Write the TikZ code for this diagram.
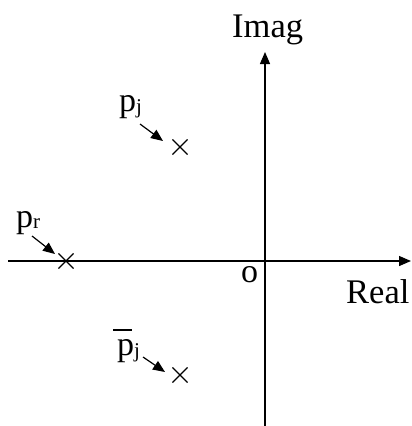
\documentclass[tikz,border=0pt]{standalone}
\usepackage{fontspec}
\setmainfont{Liberation Serif}
\usetikzlibrary{arrows.meta,shapes.misc}
\newcommand\subj{\raisebox{-2pt}{\fontsize{21}{22}\selectfont j}}
\newcommand\subr{\raisebox{-1pt}{\fontsize{21}{22}\selectfont r}}
\newcommand\pbar{\makebox[0pt][l]{\hspace{-0.12em}\raisebox{0.70em}{\rule{0.56em}{0.06em}}}p}
\tikzset{
  axis/.style={line width=1.3pt,-{Triangle[length=12pt,width=10pt]}},
  pointer/.style={line width=1.2pt,-{Triangle[length=12pt,width=10pt]}},
  pole/.style={cross out,draw,line width=1.1pt,minimum size=14pt,inner sep=0pt},
  lbl/.style={inner sep=0pt,anchor=base west,font=\fontsize{34}{38}\selectfont},
  axlbl/.style={inner sep=0pt,anchor=base west,font=\fontsize{34.5}{40}\selectfont}
}
\begin{document}
\begin{tikzpicture}[x=1pt,y=-1pt]
\useasboundingbox (0,0) rectangle (412,426);
% axes
\coordinate (xl) at (8,261);
\coordinate (xr) at (411,261);
\coordinate (yb) at (265,426);
\coordinate (yt) at (265,52);
\draw[axis] (xl) -- (xr);
\draw[axis] (yb) -- (yt);
% labels
\node[axlbl] (imag) at (232,37) {Imag};
\node[axlbl] (real) at (346,303) {Real};
\node[lbl] (o) at (241,282) {o};
% poles
\node[pole] (xj) at (180,147) {};
\node[pole] (xr0) at (66,261) {};
\node[pole] (xjb) at (180,375) {};
% pole labels
\node[lbl] (pj) at (119,111) {p\subj};
\node[lbl] (pr) at (16,227) {p\subr};
\node[lbl] (pjb) at (117,355) {\pbar\subj};
% pointers
\coordinate (aj1) at (140,124);
\coordinate (aj2) at (163,141);
\coordinate (ar1) at (32,236);
\coordinate (ar2) at (55,254);
\coordinate (ab1) at (143,357);
\coordinate (ab2) at (165,372);
\draw[pointer] (aj1) -- (aj2);
\draw[pointer] (ar1) -- (ar2);
\draw[pointer] (ab1) -- (ab2);
\end{tikzpicture}
\end{document}
